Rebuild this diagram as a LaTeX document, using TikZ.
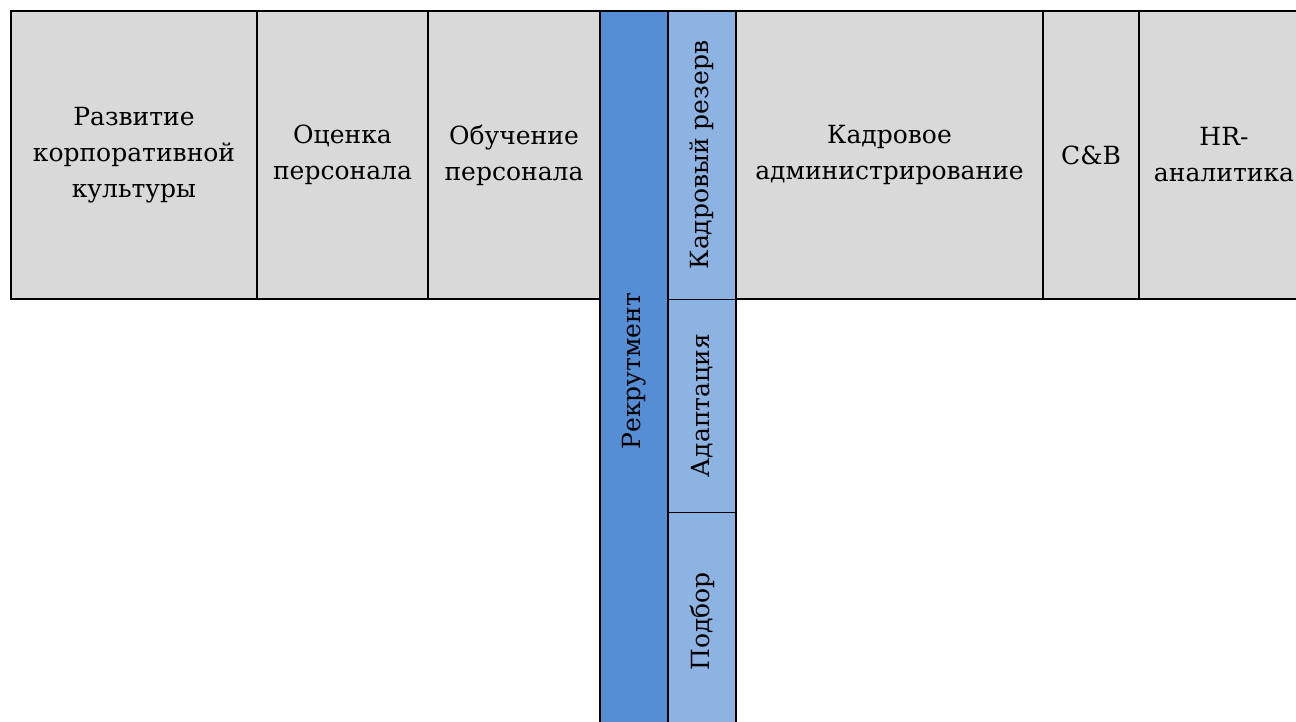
\documentclass[tikz,border=0pt]{standalone}
\usepackage{fontspec}
\setmainfont{DejaVu Serif}
\usetikzlibrary{positioning}
\definecolor{cellgray}{HTML}{D9D9D9}
\definecolor{recblue}{HTML}{558ED5}
\definecolor{subblue}{HTML}{8DB3E2}

\begin{document}
\begin{tikzpicture}[x=1pt, y=-1pt, node distance=0pt,
    cell/.style={draw, line width=2pt, outer sep=0pt, inner sep=0pt, fill=cellgray,
        align=center, minimum height=288pt, font=\fontsize{25}{36}\selectfont},
    subcell/.style={draw, line width=1pt, outer sep=0pt, inner sep=0pt, fill=subblue,
        minimum width=68pt, font=\fontsize{25}{36}\selectfont}]
    \useasboundingbox (0,0) rectangle (1296,721);
    \clip (0,0) rectangle (1296,721);

    \node[cell, minimum width=246pt, anchor=north west] (Culture) at (11,11) {Развитие\\корпоративной\\культуры};
    \node[cell, minimum width=171pt, right=of Culture] (Assessment) {Оценка\\персонала};
    \node[cell, minimum width=172pt, right=of Assessment] (Training) {Обучение\\персонала};

    \node[draw, line width=2pt, outer sep=0pt, inner sep=0pt, fill=recblue, minimum width=68pt, minimum height=720pt,
        font=\fontsize{25}{36}\selectfont, anchor=north west] (Recruitment) at (Training.north east) {\rotatebox{90}{Рекрутмент}};

    \node[subcell, minimum height=288pt, anchor=north west] (Reserve) at (Recruitment.north east) {\rotatebox{90}{Кадровый резерв}};
    \node[subcell, minimum height=213pt, below=of Reserve] (Adaptation) {\rotatebox{90}{Адаптация}};
    \node[subcell, minimum height=219pt, below=of Adaptation] (Selection) {\rotatebox{90}{Подбор}};
    \draw[line width=2pt] (Reserve.north west) rectangle (Selection.south east);

    \node[cell, minimum width=307pt, anchor=north west] (Admin) at (Reserve.north east) {Кадровое\\администрирование};
    \node[cell, minimum width=96pt, right=of Admin] (CB) {C\&B};
    \node[cell, minimum width=170pt, right=of CB] (Analytics) {HR-\\аналитика};
\end{tikzpicture}
\end{document}
